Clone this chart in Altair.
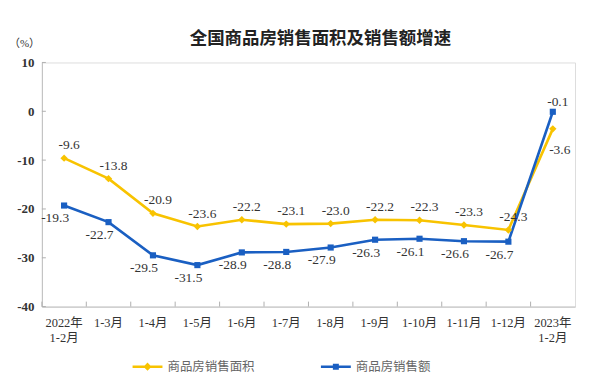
import altair as alt
import pandas as pd

cats = ["2022年\n1-2月", "1-3月", "1-4月", "1-5月", "1-6月", "1-7月", "1-8月",
        "1-9月", "1-10月", "1-11月", "1-12月", "2023年\n1-2月"]
area = [-9.6, -13.8, -20.9, -23.6, -22.2, -23.1, -23.0, -22.2, -22.3, -23.3, -24.3, -3.6]
sales = [-19.3, -22.7, -29.5, -31.5, -28.9, -28.8, -27.9, -26.3, -26.1, -26.6, -26.7, -0.1]
series = ["商品房销售面积", "商品房销售额"]
colors = ["#F8C300", "#1A5FC2"]
yticks = [10, 0, -10, -20, -30, -40]

rows = []
for i, c in enumerate(cats):
    rows.append({"cat": c, "series": series[0], "v": area[i], "idx": i})
    rows.append({"cat": c, "series": series[1], "v": sales[i], "idx": i})
df = pd.DataFrame(rows)
last = len(cats) - 1

W, H = 535, 245
serif = "Liberation Serif, Noto Sans CJK SC"

xscale = alt.Scale(domain=cats, paddingInner=0, paddingOuter=0)
xaxis = alt.Axis(title=None, labelExpr="split(datum.label, '\\n')",
                 labelAngle=0, ticks=False, labelPadding=10, bandPosition=0.5,
                 labelFont=serif, labelFontSize=12.5, labelColor="#333",
                 labelLineHeight=15, domainColor="#c0c0c0")
xenc = alt.X("cat:N", sort=cats, scale=xscale, axis=xaxis)
yscale = alt.Scale(domain=[-40, 10])
yaxis = alt.Axis(values=yticks, grid=False, ticks=False, labelPadding=8,
                 labelExpr="replace(datum.label, '\u2212', '-')",
                 labelFont=serif, labelFontSize=13, labelFontWeight="bold",
                 labelColor="#333", domainColor="#c0c0c0",
                 title="（%）", titleAngle=0, titleX=-18, titleY=-19,
                 titleAlign="center", titleBaseline="middle",
                 titleFont=serif, titleFontSize=11, titleFontWeight="normal",
                 titleColor="#333")
yenc = alt.Y("v:Q", scale=yscale, axis=yaxis)

color = alt.Color("series:N", scale=alt.Scale(domain=series, range=colors),
                  legend=None)

base = alt.Chart(df).transform_calculate(
    lbl="replace(format(datum.v, '.1f'), '\u2212', '-')")

lines = base.mark_line(strokeWidth=2.6).encode(x=xenc, y=yenc, color=color,
                                                 order="idx:Q")
pts_area = base.transform_filter(alt.datum.series == series[0]).mark_point(
    shape="diamond", filled=True, size=55, opacity=1).encode(x=xenc, y=yenc, color=color)
pts_sales = base.transform_filter(alt.datum.series == series[1]).mark_point(
    shape="square", filled=True, size=38, opacity=1).encode(x=xenc, y=yenc, color=color)

txt_props = dict(font="Liberation Serif", fontSize=13.5, color="#333")
lab_area = base.transform_filter(
    (alt.datum.series == series[0]) & (alt.datum.idx < last)).mark_text(
    dx=5, dy=-13, **txt_props).encode(x=xenc, y=yenc, text="lbl:N")
lab_area_last = base.transform_filter(
    (alt.datum.series == series[0]) & (alt.datum.idx == last)).mark_text(
    dx=7, dy=21, **txt_props).encode(x=xenc, y=yenc, text="lbl:N")
lab_sales = base.transform_filter(
    (alt.datum.series == series[1]) & (alt.datum.idx < last)).mark_text(
    dx=-9, dy=13, **txt_props).encode(x=xenc, y=yenc, text="lbl:N")
lab_sales_last = base.transform_filter(
    (alt.datum.series == series[1]) & (alt.datum.idx == last)).mark_text(
    dx=5, dy=-10, **txt_props).encode(x=xenc, y=yenc, text="lbl:N")

xticks = base.transform_filter(alt.datum.series == series[0]).mark_rule(
    color="#b0b0b0", strokeWidth=1).encode(
    x=alt.X("cat:N", sort=cats, scale=xscale, bandPosition=0, axis=xaxis),
    y=alt.value(H - 5), y2=alt.value(H))

ytick_df = pd.DataFrame({"v": yticks})
yt = alt.Chart(ytick_df).mark_rule(color="#b0b0b0", strokeWidth=1).encode(
    y=yenc, x=alt.value(0), x2=alt.value(4))

# legend
diamond_path = "M-1,-0.085H1V0.085H-1Z M0,-0.27L0.27,0L0,0.27L-0.27,0Z"
square_path = "M-1,-0.085H1V0.085H-1Z M-0.2,-0.2H0.2V0.2H-0.2Z"
leg_kw = dict(title=None, orient="none", legendX=91, legendY=290,
              direction="horizontal", columnPadding=66,
              symbolSize=900, symbolStrokeWidth=0, symbolOpacity=1,
              labelFont="Noto Sans CJK SC", labelFontSize=12.5,
              labelColor="#666", labelOffset=5, labelLimit=200)
leg_df = pd.DataFrame({"series": series})
leg_sym = alt.Chart(leg_df).mark_point(filled=True, size=0, opacity=1).encode(
    color=alt.Color("series:N", scale=alt.Scale(domain=series, range=colors),
                    legend=alt.Legend(**leg_kw)),
    shape=alt.Shape("series:N", scale=alt.Scale(domain=series,
                                                range=[diamond_path, square_path]),
                    legend=alt.Legend(**leg_kw)))

chart = alt.layer(xticks, yt, lines, pts_area, pts_sales, lab_area, lab_area_last,
                  lab_sales, lab_sales_last, leg_sym).resolve_scale(
    color="independent", shape="independent").properties(
    width=W, height=H,
    title=alt.Title("全国商品房销售面积及销售额增速", font="Noto Sans CJK SC",
                    fontSize=17.5, fontWeight="bold", color="#222", anchor="middle",
                    dx=12, offset=-10),
    autosize=alt.AutoSizeParams(type="none"),
    padding={"left": 34, "top": 54, "right": 8, "bottom": 76},
).configure_view(stroke="#d0d0d0", strokeWidth=1).configure(background="white")

chart.save("out.html", embed_options={"renderer": "svg", "actions": False})
